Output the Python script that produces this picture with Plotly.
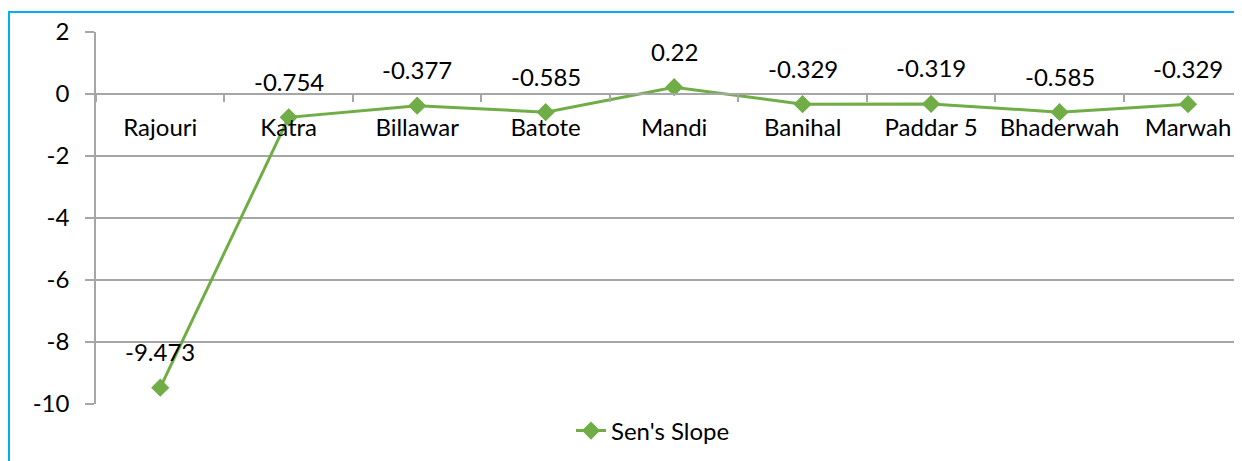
import plotly.graph_objects as go

categories = ["Rajouri", "Katra", "Billawar", "Batote", "Mandi", "Banihal", "Paddar 5", "Bhaderwah", "Marwah"]
sens_slope = [-9.473, -0.754, -0.377, -0.585, 0.22, -0.329, -0.319, -0.585, -0.329]
y_ticks = [2, 0, -2, -4, -6, -8, -10]

GREEN = "#70AD47"
GRID = "#A6A6A6"
FONT = "Lato"
FS = 24

fig = go.Figure()
fig.add_trace(go.Scatter(
    x=categories, y=sens_slope, mode="lines+markers", name="Sen's Slope",
    line=dict(color=GREEN, width=3),
    marker=dict(symbol="diamond", size=14, color=GREEN),
))

for c, v in zip(categories, sens_slope):
    fig.add_annotation(x=c, y=v, text=str(v), showarrow=False, yshift=36,
                       font=dict(family=FONT, size=FS, color="#000"))

# page body has an 8px margin; compensate
OFF = 8
W, H = 1242 - OFF, 461 - OFF
ml, mr, mt, mb = 96 - OFF, 0, 32 - OFF, 57
pw, ph = W - ml - mr, H - mt - mb

fig.add_shape(type="rect", xref="paper", yref="paper",
              x0=(1 - ml) / pw, x1=1.02, y0=-0.3, y1=1 + (mt - (12 - OFF)) / ph,
              line=dict(color="#00B0F0", width=2), layer="above")

fig.update_layout(
    width=W, height=H,
    margin=dict(l=ml, r=mr, t=mt, b=mb, autoexpand=False),
    paper_bgcolor="white", plot_bgcolor="white",
    font=dict(family=FONT, size=FS, color="#000"),
    showlegend=True,
    legend=dict(orientation="h", x=(653 - 96) / pw, xanchor="center",
                y=(404 - 431) / ph, yanchor="middle",
                font=dict(family=FONT, size=FS, color="#000")),
    xaxis=dict(type="category", range=[-0.5, 8.42], anchor="free",
               position=10 / 12, showline=True, linecolor=GRID, linewidth=1.5,
               ticks="outside", tickson="boundaries", ticklen=7, tickcolor=GRID,
               tickwidth=1.5, showgrid=False, ticklabelstandoff=12,
               tickangle=0, automargin=False,
               tickfont=dict(family=FONT, size=FS, color="#000")),
    yaxis=dict(range=[-10, 2], tickvals=y_ticks, ticktext=[str(t) for t in y_ticks],
               showgrid=True, gridcolor=GRID, gridwidth=1.5, zeroline=False,
               showline=True, linecolor=GRID, linewidth=1.5,
               ticks="outside", ticklen=9, tickcolor=GRID, tickwidth=1.5,
               ticklabelstandoff=11, automargin=False,
               tickfont=dict(family=FONT, size=FS, color="#000")),
)

fig.write_html("out.html")
